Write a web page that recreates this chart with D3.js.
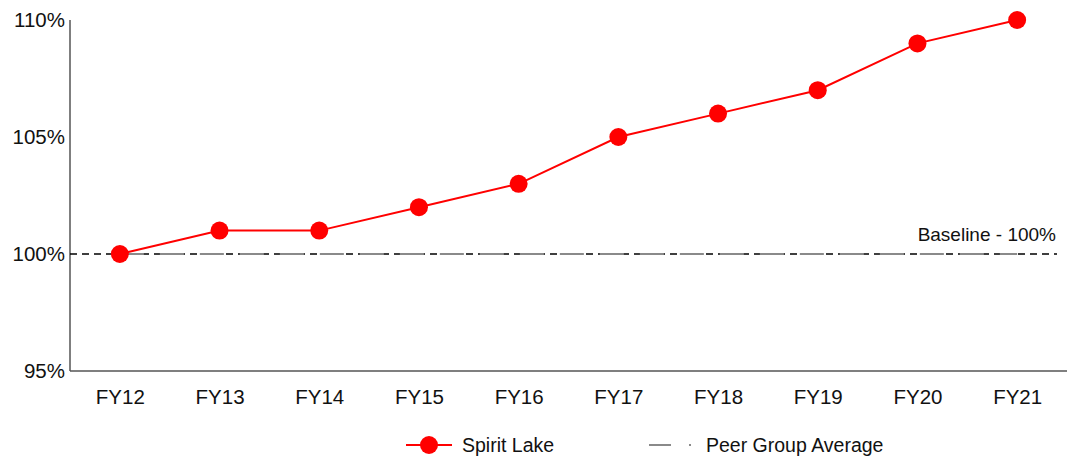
<!DOCTYPE html>
<html>
<head>
<meta charset="utf-8">
<script src="https://cdn.jsdelivr.net/npm/d3@7"></script>
<style>
  body { margin: 0; background: #fff; }
  text { font-family: "Liberation Sans", Arial, sans-serif; }
</style>
</head>
<body>
<svg id="chart" width="1079" height="457"></svg>
<script>
const categories = ["FY12", "FY13", "FY14", "FY15", "FY16", "FY17", "FY18", "FY19", "FY20", "FY21"];
const spiritLake = [100, 101, 101, 102, 103, 105, 106, 107, 109, 110];
const peerAvg = [100, 100, 100, 100, 100, 100, 100, 100, 100, 100];
const yTicks = [95, 100, 105, 110];
const baseline = 100;

const svg = d3.select("#chart");
const plotLeft = 70, plotRight = 1067, plotTop = 20, plotBottom = 371;

const x = d3.scalePoint().domain(categories).range([plotLeft, plotRight]).padding(0.5);
const y = d3.scaleLinear().domain([95, 110]).range([plotBottom, plotTop]);

// axes
const yAxis = svg.append("g")
  .attr("transform", `translate(${plotLeft},0)`)
  .call(d3.axisLeft(y).tickValues(yTicks).tickSize(0).tickPadding(5).tickFormat(d => d + "%"));
const xAxis = svg.append("g")
  .attr("transform", `translate(0,${plotBottom})`)
  .call(d3.axisBottom(x).tickSize(0).tickPadding(18));

[yAxis, xAxis].forEach(g => {
  g.select(".domain").attr("stroke", "#555").attr("stroke-width", 1.5);
  g.selectAll("text").attr("font-size", 20.5).attr("fill", "#111")
    .attr("font-family", "'Liberation Sans', Arial, sans-serif");
});
yAxis.select(".domain").attr("d", `M0,${plotTop}V${plotBottom}`);
xAxis.select(".domain").attr("d", `M${plotLeft},0H${plotRight}`);

// baseline
svg.append("line")
  .attr("x1", plotLeft).attr("x2", plotRight - 10)
  .attr("y1", y(baseline)).attr("y2", y(baseline))
  .attr("stroke", "#000")
  .attr("stroke-width", 1.5)
  .attr("stroke-dasharray", "7,5");

// peer group average (drawn over the baseline)
svg.append("path")
  .datum(peerAvg)
  .attr("fill", "none")
  .attr("stroke", "#8a8a8a")
  .attr("stroke-width", 2)
  .attr("stroke-dasharray", "24,16")
  .attr("d", d3.line().x((d, i) => x(categories[i])).y(d => y(d)));

svg.append("text")
  .attr("x", 1056).attr("y", y(baseline) - 13)
  .attr("text-anchor", "end")
  .attr("font-size", 19)
  .attr("fill", "#111")
  .text("Baseline - " + baseline + "%");

// spirit lake
svg.append("path")
  .datum(spiritLake)
  .attr("fill", "none")
  .attr("stroke", "#ff0000")
  .attr("stroke-width", 2)
  .attr("d", d3.line().x((d, i) => x(categories[i])).y(d => y(d)));

svg.selectAll("circle.pt")
  .data(spiritLake)
  .enter()
  .append("circle")
  .attr("class", "pt")
  .attr("cx", (d, i) => x(categories[i]))
  .attr("cy", d => y(d))
  .attr("r", 9)
  .attr("fill", "#ff0000");

// legend
const ly = 445;
svg.append("line").attr("x1", 406).attr("x2", 452).attr("y1", ly).attr("y2", ly)
  .attr("stroke", "#ff0000").attr("stroke-width", 2);
svg.append("circle").attr("cx", 429).attr("cy", ly).attr("r", 9).attr("fill", "#ff0000");
svg.append("text").attr("x", 462).attr("y", ly + 7).attr("font-size", 19.5).attr("fill", "#111").text("Spirit Lake");

svg.append("line").attr("x1", 649).attr("x2", 693).attr("y1", ly).attr("y2", ly)
  .attr("stroke", "#8a8a8a").attr("stroke-width", 2).attr("stroke-dasharray", "22,18,2,10");
svg.append("text").attr("x", 706).attr("y", ly + 7).attr("font-size", 19.5).attr("fill", "#111").text("Peer Group Average");
</script>
</body>
</html>
